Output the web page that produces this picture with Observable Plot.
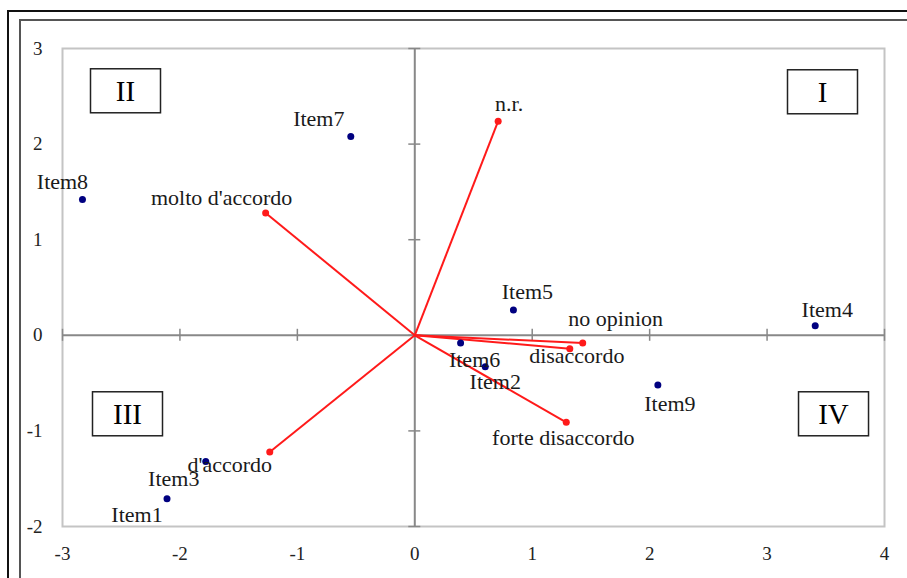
<!DOCTYPE html>
<html>
<head>
<meta charset="utf-8">
<script src="https://cdn.jsdelivr.net/npm/d3@7"></script>
<script src="https://cdn.jsdelivr.net/npm/@observablehq/plot@0.6"></script>
<style>
  html, body { margin: 0; padding: 0; background: #fff; }
  #chart { width: 907px; height: 578px; overflow: hidden; }
  #chart svg, #chart svg text { font-family: "Liberation Serif", "Times New Roman", serif !important; }
</style>
</head>
<body>
<div id="chart"></div>
<script>
// Item coordinates on the first two factorial axes
const itemNames = ["Item1", "Item2", "Item3", "Item4", "Item5", "Item6", "Item7", "Item8", "Item9"];
const itemX = [-2.11, 0.60, -1.78, 3.41, 0.84, 0.39, -0.545, -2.83, 2.07];
const itemY = [-1.71, -0.33, -1.32, 0.10, 0.265, -0.08, 2.08, 1.42, -0.52];

// Response categories, drawn as vectors from the origin
const levelNames = ["molto d'accordo", "d'accordo", "no opinion", "disaccordo", "forte disaccordo", "n.r."];
const levelX = [-1.27, -1.235, 1.43, 1.32, 1.29, 0.71];
const levelY = [1.28, -1.22, -0.08, -0.14, -0.91, 2.24];

const xTicks = [-3, -2, -1, 0, 1, 2, 3, 4];
const yTicks = [-2, -1, 0, 1, 2, 3];
const quadrantNames = ["I", "II", "III", "IV"];

// Label placement (pixel offsets from the point)
const labelOffset = {
  "Item1": [-30, 16], "Item2": [10, 15], "Item3": [-32, 17], "Item4": [12, -16],
  "Item5": [14, -18], "Item6": [14, 17], "Item7": [-32, -17], "Item8": [-20, -18],
  "Item9": [12, 19],
  "molto d'accordo": [-44, -15], "d'accordo": [-40, 13], "no opinion": [33, -24],
  "disaccordo": [7, 7], "forte disaccordo": [-3, 16], "n.r.": [11, -17]
};
const quadrantPlace = {
  "I": ["top-right", -62, 44],
  "II": ["top-left", 63, 43],
  "III": ["bottom-left", 65, -112],
  "IV": ["bottom-right", -51, -112]
};

const items = itemNames.map((name, i) => ({name, x: itemX[i], y: itemY[i]}));
const levels = levelNames.map((name, i) => ({name, x: levelX[i], y: levelY[i]}));

const serif = "Liberation Serif";
const labelSize = 22;

const labelMarks = [...items, ...levels].map(d => Plot.text([d], {
  x: "x", y: "y", text: "name",
  dx: labelOffset[d.name][0], dy: labelOffset[d.name][1],
  fontSize: labelSize, fontFamily: serif, fill: "#1a1a1a",
  textAnchor: "middle", lineAnchor: "middle"
}));

const quadrantMarks = quadrantNames.map(q => Plot.text([q], {
  text: d => d,
  frameAnchor: quadrantPlace[q][0], dx: quadrantPlace[q][1], dy: quadrantPlace[q][2],
  fontSize: 29, fontFamily: serif, fill: "#000", textAnchor: "middle", lineAnchor: "middle"
}));

const chart = Plot.plot({
  width: 907,
  height: 578,
  marginLeft: 62,
  marginRight: 23,
  marginTop: 48,
  marginBottom: 52,
  style: {fontFamily: serif, fontSize: "19px", background: "#fff", color: "#222"},
  x: {domain: [-3, 4]},
  y: {domain: [-2, 3]},
  marks: [
    Plot.frame({stroke: "#c4c4c4", strokeWidth: 2}),
    Plot.ruleX([0], {stroke: "#888", strokeWidth: 2}),
    Plot.ruleY([0], {stroke: "#888", strokeWidth: 2}),
    Plot.ruleX(xTicks, {x: d => d, y1: 0, y2: 0, insetTop: -6, insetBottom: -6, stroke: "#888", strokeWidth: 1.5}),
    Plot.ruleY(yTicks, {y: d => d, x1: 0, x2: 0, insetLeft: -6, insetRight: -6, stroke: "#888", strokeWidth: 1.5}),
    Plot.axisX(xTicks, {tickSize: 0, tickPadding: 20, tickFormat: d => String(d), label: null, fill: "#222", fontSize: 19, fontFamily: serif}),
    Plot.axisY(yTicks, {tickSize: 0, tickPadding: 20, tickFormat: d => String(d), label: null, fill: "#222", fontSize: 19, fontFamily: serif}),
    Plot.link(levels, {x1: 0, y1: 0, x2: "x", y2: "y", stroke: "#ff1a1a", strokeWidth: 2}),
    Plot.dot(levels, {x: "x", y: "y", r: 3.5, fill: "#ff1a1a"}),
    Plot.dot(items, {x: "x", y: "y", r: 3.5, fill: "#000080"}),
    ...quadrantMarks,
    ...labelMarks
  ]
});

document.getElementById("chart").append(chart);

const svg = d3.select(chart);

// Double page border around the figure
svg.insert("rect", ":first-child")
  .attr("x", 20).attr("y", 20).attr("width", 960).attr("height", 640)
  .attr("fill", "none").attr("stroke", "#555").attr("stroke-width", 2);
svg.insert("rect", ":first-child")
  .attr("x", 8).attr("y", 11).attr("width", 960).attr("height", 640)
  .attr("fill", "none").attr("stroke", "#111").attr("stroke-width", 2);

// Boxes around the quadrant numerals
svg.selectAll("text")
  .filter(function () { return quadrantNames.includes(this.textContent); })
  .each(function () {
    const b = this.getBBox();
    const cx = b.x + b.width / 2, cy = b.y + b.height / 2;
    const t = this.getAttribute("transform");
    const box = document.createElementNS("http://www.w3.org/2000/svg", "rect");
    box.setAttribute("x", cx - 35);
    box.setAttribute("y", cy - 22);
    box.setAttribute("width", 70);
    box.setAttribute("height", 44);
    box.setAttribute("fill", "#fff");
    box.setAttribute("stroke", "#222");
    box.setAttribute("stroke-width", 1.5);
    if (t) box.setAttribute("transform", t);
    this.parentNode.insertBefore(box, this);
  });
</script>
</body>
</html>
